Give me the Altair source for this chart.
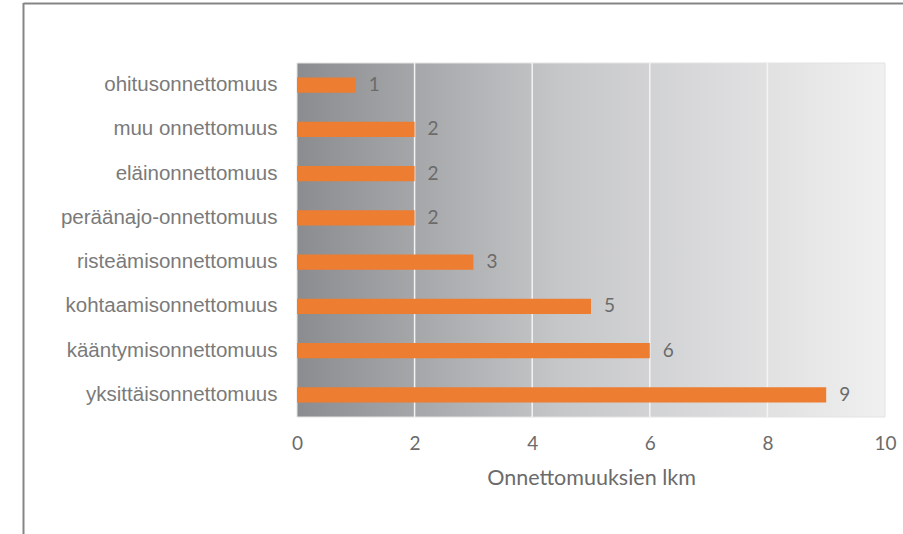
import altair as alt
import pandas as pd

categories = [
    "ohitusonnettomuus",
    "muu onnettomuus",
    "eläinonnettomuus",
    "peräänajo-onnettomuus",
    "risteämisonnettomuus",
    "kohtaamisonnettomuus",
    "kääntymisonnettomuus",
    "yksittäisonnettomuus",
]
counts = [1, 2, 2, 2, 3, 5, 6, 9]
tick_values = [0, 2, 4, 6, 8, 10]
grid_values = [2, 4, 6, 8]
x_title = "Onnettomuuksien lkm"

W, H = 588, 354
PAD_L, PAD_T = 297, 63

df = pd.DataFrame({"cat": categories, "n": counts})
grid_df = pd.DataFrame({"g": grid_values})

xscale = alt.Scale(domain=[0, 10], nice=False, zero=True)
yscale = alt.Scale(domain=categories, paddingInner=0.65, paddingOuter=0.325)

x_axis = alt.Axis(
    values=tick_values,
    title=x_title,
    grid=False,
    domain=False,
    ticks=False,
    labelFlush=False,
    labelFont="Lato",
    labelFontSize=19,
    labelColor="#6b6b6b",
    labelPadding=17,
    titleFont="Lato",
    titleFontSize=21.5,
    titleFontWeight="normal",
    titleColor="#6b6b6b",
    titlePadding=14,
)

gradient = alt.LinearGradient(
    gradient="linear",
    stops=[
        alt.GradientStop(color="#8b8c8f", offset=0),
        alt.GradientStop(color="#c6c7c9", offset=0.45),
        alt.GradientStop(color="#f0f0f0", offset=1),
    ],
    x1=0, x2=1, y1=0, y2=0,
)

bg = alt.Chart(pd.DataFrame({"n": [0], "b": [10]})).mark_rect(
    fill=gradient, stroke="#e3e3e3", strokeWidth=1
).encode(
    x=alt.X("n:Q", scale=xscale, axis=x_axis),
    x2="b:Q",
    y=alt.value(0),
    y2=alt.value(H),
)

grid = alt.Chart(grid_df).mark_rule(color="#f4f4f4", strokeWidth=1.5).encode(
    x=alt.X("g:Q", scale=xscale, axis=x_axis),
    y=alt.value(0),
    y2=alt.value(H),
)

bars = alt.Chart(df).mark_bar(color="#ED7D31").encode(
    x=alt.X("n:Q", scale=xscale, axis=x_axis),
    y=alt.Y(
        "cat:N",
        scale=yscale,
        sort=None,
        axis=alt.Axis(
            title=None,
            domain=False,
            ticks=False,
            labelFont="Liberation Sans",
            labelFontSize=20.5,
            labelColor="#7a7a7a",
            labelPadding=20,
            labelLimit=400,
        ),
    ),
)

labels = alt.Chart(df).mark_text(
    align="left", baseline="middle", dx=13, font="Lato", fontSize=19, color="#6b6b6b"
).encode(
    x=alt.X("n:Q", scale=xscale, axis=x_axis),
    y=alt.Y("cat:N", scale=yscale, sort=None),
    text="n:Q",
)

frame_left = alt.Chart(pd.DataFrame({"k": [0]})).mark_rule(color="#858585", strokeWidth=2).encode(
    x=alt.value(23.5 - PAD_L),
    y=alt.value(3 - PAD_T),
    y2=alt.value(534 - PAD_T),
)
frame_top = alt.Chart(pd.DataFrame({"k": [0]})).mark_rule(color="#858585", strokeWidth=2).encode(
    x=alt.value(23.5 - PAD_L),
    x2=alt.value(903 - PAD_L),
    y=alt.value(3.5 - PAD_T),
)

chart = alt.layer(bg, grid, bars, labels, frame_left, frame_top).properties(
    width=W,
    height=H,
    autosize=alt.AutoSizeParams(type="none"),
    padding={"left": PAD_L, "top": PAD_T, "right": 903 - PAD_L - W, "bottom": 534 - PAD_T - H},
    background="white",
).configure_view(stroke=None)

chart.save("out.html", embed_options={"renderer": "svg", "actions": False})
